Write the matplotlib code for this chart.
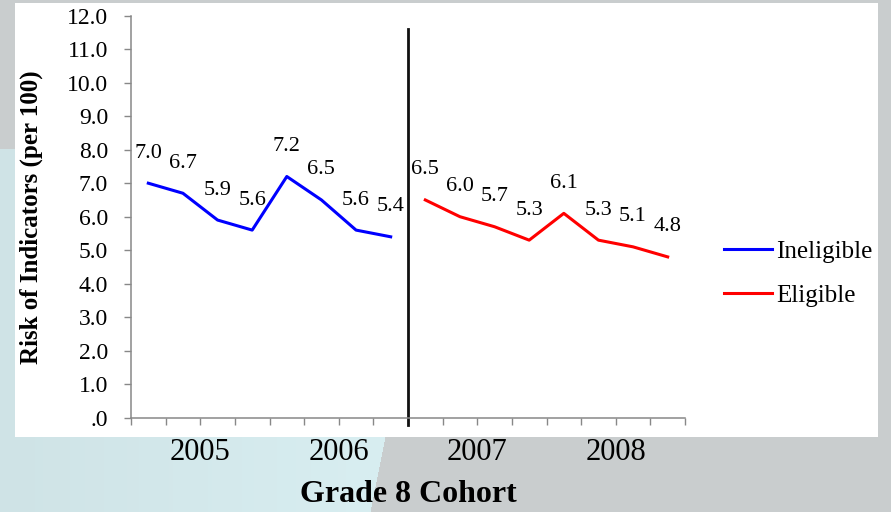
import numpy as np
import matplotlib
matplotlib.use("Agg")
import matplotlib.pyplot as plt
from matplotlib.patches import Rectangle
from matplotlib.ticker import FuncFormatter

# risk of indicators (per 100), four cohort periods per year
ineligible = [7.0, 6.7, 5.9, 5.6, 7.2, 6.5, 5.6, 5.4]
eligible = [6.5, 6.0, 5.7, 5.3, 6.1, 5.3, 5.1, 4.8]
years = ["2005", "2006", "2007", "2008"]
periods_per_year = 4
series_names = ["Ineligible", "Eligible"]
series_colors = ["#0000ff", "#ff0000"]
divider_top = 11.6

W, H, DPI = 891, 512, 100
plt.rcParams["font.family"] = ["Liberation Serif", "DejaVu Serif"]

fig = plt.figure(figsize=(W / DPI, H / DPI), dpi=DPI)

# slide-style backdrop: grey with a pale teal wash in the lower left
bg = np.ones((H, W, 3)) * np.array([0xc9, 0xcd, 0xce]) / 255
yy, xx = np.mgrid[0:H, 0:W]
teal = (yy > 148) & (xx < 385 - (yy - 437) * 0.2)
shade = np.clip(xx / 380, 0, 1)[..., None]
teal_col = (np.array([0xcf, 0xe3, 0xe6]) * (1 - shade) + np.array([0xd8, 0xee, 0xf1]) * shade) / 255
bg = np.where(teal[..., None], teal_col, bg)
fig.figimage(bg, xo=0, yo=0, origin="upper", zorder=-2)
fig.patches.append(Rectangle((15 / W, 75 / H), 863 / W, 434 / H, transform=fig.transFigure,
                             facecolor="white", edgecolor="none", zorder=-1))

ax = fig.add_axes([131 / W, (H - 417.7) / H, 554 / W, 402 / H])
ax.set_facecolor("none")

n = len(ineligible)
x_inel = np.arange(n)
x_elig = np.arange(n, n + len(eligible))
total = n + len(eligible)

ax.plot(x_inel, ineligible, color=series_colors[0], lw=2.2, label=series_names[0])
ax.plot(x_elig, eligible, color=series_colors[1], lw=2.2, label=series_names[1])

for xs, vals in [(x_inel, ineligible), (x_elig, eligible)]:
    for xi, v in zip(xs, vals):
        ax.annotate(f"{v:.1f}", xy=(xi, v), xytext=(0, 30), textcoords="offset pixels",
                    ha="center", va="center", fontsize=16)

# cohort divider between the two groups
ax.axvline(n - 0.5, ymin=-0.017, ymax=divider_top / 12, color="#111111", lw=2, clip_on=False)

ax.set_xlim(-0.5, total - 0.5)
ax.set_ylim(0, 12)
ax.set_xticks(np.arange(-0.5, total, 1))
ax.set_xticklabels([])
ax.set_yticks(np.arange(0, 12.1, 1))


def fmt(v, pos):
    s = f"{v:.1f}"
    return s[1:] if s.startswith("0.") else s


ax.yaxis.set_major_formatter(FuncFormatter(fmt))
ax.tick_params(axis="y", direction="out", length=5, width=1, color="#888888", pad=11.5, labelsize=17)
ax.tick_params(axis="x", direction="out", length=5, width=1, color="#888888")
for side in ["top", "right"]:
    ax.spines[side].set_visible(False)
for side in ["left", "bottom"]:
    ax.spines[side].set_color("#888888")
    ax.spines[side].set_linewidth(1.1)

for i, yr in enumerate(years):
    c = i * periods_per_year + (periods_per_year - 1) / 2
    ax.annotate(yr, xy=(c, 0), xycoords=("data", "axes fraction"), xytext=(0, -35),
                textcoords="offset pixels", ha="center", va="center", fontsize=22)

fig.text(408 / W, (H - 494) / H, "Grade 8 Cohort", ha="center", va="center",
         fontsize=23, fontweight="bold")
fig.text(31 / W, (H - 217) / H, "Risk of Indicators (per 100)", rotation=90, ha="center",
         va="center", fontsize=18, fontweight="bold")

handles, labels = ax.get_legend_handles_labels()
fig.legend(handles, labels, loc="center left", bbox_to_anchor=(724 / W, (H - 273.5) / H),
           frameon=False, borderpad=0, borderaxespad=0, handlelength=1.9, handletextpad=0.2,
           labelspacing=0.85, prop={"size": 18})

fig.savefig("out.png", dpi=DPI)
